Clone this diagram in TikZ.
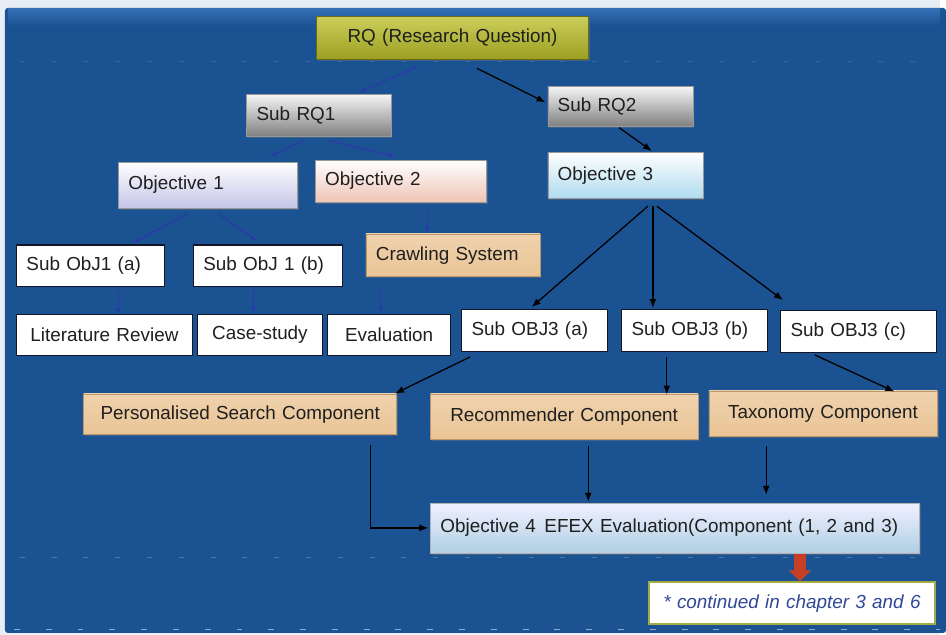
\documentclass[tikz,border=0pt]{standalone}
\usepackage{fontspec}
\setmainfont{Liberation Sans}
\usetikzlibrary{calc,arrows.meta,shadows}

\definecolor{bgblue}{RGB}{27,82,146}
\definecolor{bgtop}{RGB}{52,112,182}
\definecolor{framecol}{RGB}{232,238,245}
\definecolor{linkblue}{RGB}{44,56,170}
\definecolor{boxline}{RGB}{18,22,40}
\definecolor{olivetop}{RGB}{204,206,90}
\definecolor{olivebot}{RGB}{156,160,34}
\definecolor{oliveline}{RGB}{104,108,26}
\definecolor{peach}{RGB}{232,190,138}
\definecolor{peachlight}{RGB}{253,246,236}
\definecolor{contblue}{RGB}{48,72,150}
\definecolor{contline}{RGB}{164,172,70}
\definecolor{redarrow}{RGB}{198,64,40}
\definecolor{dashcol}{RGB}{170,194,220}

\begin{document}
\begin{tikzpicture}[x=1pt,y=-1pt,
  every node/.style={font=\fontsize{19}{22}\selectfont, text=black!88},
  base/.style={anchor=north west, inner xsep=10pt, inner ysep=0pt, align=left},
  plainbox/.style={base, fill=white, draw=boxline, line width=1.2pt},
  gradbox/.style={base, draw=black!40, line width=0.5pt,
    drop shadow={shadow xshift=1.5pt, shadow yshift=-2pt, opacity=0.35}},
  rqbox/.style={gradbox, align=center, draw=oliveline, line width=0.8pt,
    top color=olivetop, bottom color=olivebot},
  graybox/.style={gradbox, top color=white!96!black, bottom color=black!50},
  lilacbox/.style={gradbox, top color=white, bottom color={rgb,255:red,196;green,196;blue,232}},
  pinkbox/.style={gradbox, top color=white, bottom color={rgb,255:red,238;green,196;blue,180}},
  skybox/.style={gradbox, top color=white, bottom color={rgb,255:red,176;green,220;blue,240}},
  compbox/.style={gradbox, align=center, draw=peach!80!black, top color=peach!70!white,
    middle color=peachlight, bottom color=peach!90!white},
  evalbox/.style={gradbox, draw=black!30, top color=white!94!blue, bottom color={rgb,255:red,176;green,208;blue,228}},
  notebox/.style={base, align=center, fill=white, draw=contline, line width=2pt,
    font=\fontsize{19}{22}\selectfont\itshape, text=contblue},
  bluelink/.style={draw=linkblue, line width=1pt, -{Latex[length=6pt,width=5pt]}},
  blacklink/.style={draw=black, line width=1.3pt, -{Latex[length=9pt,width=7pt]}},
  bigarrow/.style={draw=redarrow, line width=12pt, -{Triangle[length=11pt,width=22pt]}}
]
% page frame and blue panel
\fill[framecol] (0,0) rectangle (946,639);
\fill[bgblue, rounded corners=3pt] (5,8) rectangle (952,637);
\shade[top color=bgtop, bottom color=bgblue] (8,8.5) rectangle (946,26);
\useasboundingbox (0,0) rectangle (946,639);
% faint ruled lines across the panel
\draw[dashcol, opacity=0.18, line width=0.8pt, dash pattern=on 5pt off 27pt] (20,62) -- (946,62);
\draw[dashcol, opacity=0.35, line width=0.8pt, dash pattern=on 5pt off 27pt] (20,561) -- (946,561);
\draw[dashcol, opacity=0.8, line width=1pt, dash pattern=on 6pt off 26pt] (14,633) -- (946,633);

% research questions and objectives
\node[rqbox, text width=254pt, minimum height=43pt] (rq) at (318,16) {RQ (Research Question)};
\node[graybox, text width=125pt, minimum height=42pt] (subrqone) at (248,95) {Sub RQ1};
\node[graybox, text width=126pt, minimum height=40pt] (subrqtwo) at (551,87) {Sub RQ2};
\node[lilacbox, text width=160pt, minimum height=46pt] (objone) at (119,163) {Objective 1};
\node[pinkbox, text width=152pt, minimum height=42pt] (objtwo) at (317,161) {Objective 2};
\node[skybox, text width=136pt, minimum height=46pt] (objthree) at (551,153) {Objective 3};

% sub objectives
\node[plainbox, text width=129pt, minimum height=42pt] (subobja) at (16,246) {Sub ObJ1 (a)};
\node[plainbox, text width=130pt, minimum height=42pt] (subobjb) at (194,246) {Sub ObJ 1 (b)};
\node[compbox, align=left, text width=155pt, minimum height=43pt] (crawl) at (368,235) {Crawling System};
\node[plainbox, align=center, text width=157pt, minimum height=41pt] (lit) at (16,316) {Literature Review};
\node[plainbox, align=center, text width=106pt, minimum height=41pt] (case) at (198,316) {Case-study};
\node[plainbox, align=center, text width=104pt, minimum height=41pt] (eval) at (329,316) {Evaluation};
\node[plainbox, text width=127pt, minimum height=42pt] (subobjthreea) at (464,311) {Sub OBJ3 (a)};
\node[plainbox, text width=127pt, minimum height=42pt] (subobjthreeb) at (625,311) {Sub OBJ3 (b)};
\node[plainbox, text width=137pt, minimum height=42pt] (subobjthreec) at (785,312) {Sub OBJ3 (c)};

% components and evaluation
\node[compbox, text width=295pt, minimum height=41pt] (pers) at (84,396) {Personalised Search Component};
\node[compbox, text width=249pt, minimum height=46pt] (rec) at (433,396) {Recommender Component};
\node[compbox, text width=210pt, minimum height=46pt] (tax) at (713,393) {Taxonomy Component};
\node[evalbox, text width=472pt, minimum height=50pt] (objfour) at (433,506)
  {Objective 4\hspace{0.45em}EFEX Evaluation(Component (1, 2 and 3)};
\node[notebox, text width=268pt, minimum height=42pt] (cont) at (652,585) {* continued in chapter 3 and 6};

% connectors
\draw[bluelink] ($(rq.south west)+(102,7)$) -- ($(subrqone.north west)+(114,-2)$);
\draw[blacklink] ($(rq.south west)+(162,9)$) -- ($(subrqtwo.north west)+(-2,16)$);
\draw[bluelink] ($(subrqone.south west)+(57,4)$) -- ($(objone.north west)+(153,-6)$);
\draw[bluelink] ($(subrqone.south west)+(82,4)$) -- ($(objtwo.north west)+(80,-4)$);
\draw[blacklink] ($(subrqtwo.south west)+(72,1)$) -- ($(objthree.north west)+(105,-1)$);
\draw[bluelink] ($(objone.south west)+(69,6)$) -- ($(subobja.north west)+(119,-2)$);
\draw[bluelink] ($(objone.south west)+(101,6)$) -- ($(subobjb.north west)+(64,-4)$);
\draw[bluelink] ($(objtwo.south west)+(113,6)$) -- ($(crawl.north west)+(62,-1)$);
\draw[bluelink] ($(subobja.south west)+(103,3)$) -- ($(lit.north west)+(103,0)$);
\draw[bluelink] ($(subobjb.south west)+(61,3)$) -- ($(case.north west)+(57,-1)$);
\draw[bluelink] ($(crawl.south west)+(15,11)$) -- ($(eval.north west)+(54,-1)$);
\draw[blacklink] ($(objthree.south west)+(101,8)$) -- ($(subobjthreea.north west)+(71,-2)$);
\draw[blacklink] ($(objthree.south west)+(106,8)$) -- ($(subobjthreeb.north west)+(32,-1)$);
\draw[blacklink] ($(objthree.south west)+(110,8)$) -- ($(subobjthreec.north west)+(3,-10)$);
\draw[blacklink] ($(subobjthreea.south west)+(9,5)$) -- ($(pers.north east)+(-2,0)$);
\draw[blacklink] ($(subobjthreeb.south west)+(46,5)$) -- ($(rec.north west)+(238,1)$);
\draw[blacklink] ($(subobjthreec.south west)+(35,2)$) -- ($(tax.north west)+(187,1)$);
\draw[blacklink] ($(pers.south west)+(289,10)$) |- ($(objfour.west)+(-2,0)$);
\draw[blacklink] ($(rec.south west)+(159,6)$) -- ($(objfour.north west)+(159,-1)$);
\draw[blacklink] ($(tax.south west)+(58,9)$) -- ($(objfour.north west)+(338,-8)$);
\draw[bigarrow] ($(objfour.south west)+(372,1)$) -- ($(cont.north west)+(153,0)$);
\end{tikzpicture}
\end{document}
